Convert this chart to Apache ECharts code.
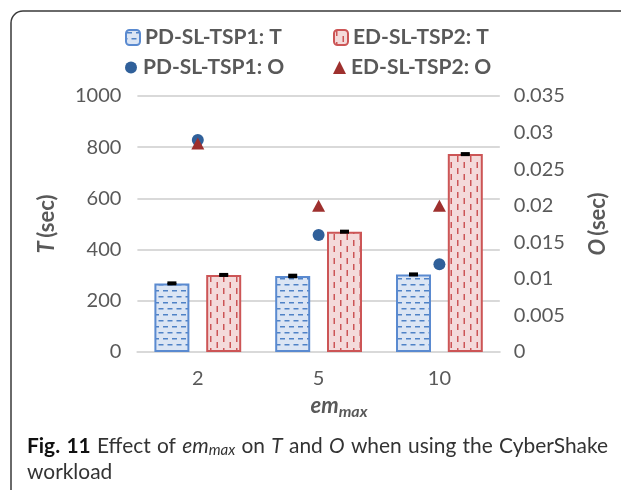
<!DOCTYPE html>
<html>
<head>
<meta charset="utf-8">
<style>
  html, body { margin: 0; padding: 0; background: #fff; }
  #chart { width: 621px; height: 490px; }
</style>
<script src="https://cdn.jsdelivr.net/npm/echarts@6/dist/echarts.min.js"></script>
</head>
<body>
<div id="chart"></div>
<script>
// em_max settings on the category axis
const categories = ['2', '5', '10'];
// makespan T (sec), left axis
const pdT = [268, 297, 303];
const edT = [301, 470, 773];
// error bar half-widths for T
const pdTErr = [3, 4, 3];
const edTErr = [3, 3, 3];
// overhead O (sec), right axis
const pdO = [0.029, 0.016, 0.012];
const edO = [0.0285, 0.020, 0.020];
// series names
const names = ['PD-SL-TSP1: T', 'ED-SL-TSP2: T', 'PD-SL-TSP1: O', 'ED-SL-TSP2: O'];
// axis ranges
const tAxis = { min: 0, max: 1000, step: 200 };
const oAxis = { min: 0, max: 0.035, step: 0.005 };

const FONT = 'Lato';
const BAR_W = 35;
const BAR_GAP = 0.48;
const AXIS_GREY = '#595959';

function makePattern(kind) {
  const c = document.createElement('canvas');
  const ctx = c.getContext('2d');
  if (kind === 'h') {
    c.width = 9; c.height = 12;
    ctx.fillStyle = '#dbe5f4';
    ctx.fillRect(0, 0, 9, 12);
    ctx.fillStyle = '#4f82c6';
    ctx.fillRect(1, 2, 5, 1.5);
    ctx.fillRect(5.5, 8, 3.5, 1.5);
    ctx.fillRect(0, 8, 1.5, 1.5);
  } else {
    c.width = 13; c.height = 12;
    ctx.fillStyle = '#f4dada';
    ctx.fillRect(0, 0, 13, 12);
    ctx.fillStyle = '#cc5556';
    ctx.fillRect(2, 0, 1.5, 6);
    ctx.fillRect(8.5, 6, 1.5, 6);
  }
  return { image: c, repeat: 'repeat' };
}

const chart = echarts.init(document.getElementById('chart'), null, { renderer: 'canvas' });

function errorBarRender(offsetSign) {
  return function (params, api) {
    const idx = api.value(0);
    const v = api.value(1);
    const e = api.value(2);
    const top = api.coord([idx, v + e]);
    const bot = api.coord([idx, v - e]);
    const dx = offsetSign * BAR_W * (1 + BAR_GAP) / 2;
    const x = top[0] + dx;
    const half = 4.5;
    const st = { stroke: '#000', lineWidth: 2.5 };
    return {
      type: 'group',
      children: [
        { type: 'line', shape: { x1: x, y1: top[1], x2: x, y2: bot[1] }, style: st },
        { type: 'line', shape: { x1: x - half, y1: top[1], x2: x + half, y2: top[1] }, style: st },
        { type: 'line', shape: { x1: x - half, y1: bot[1], x2: x + half, y2: bot[1] }, style: st }
      ]
    };
  };
}

const legendText = { fontFamily: FONT, fontSize: 21, fontWeight: 'bold', color: AXIS_GREY };
function legendAt(name, left, top, w, h) {
  return {
    data: [name], left: left, top: top, padding: 0,
    itemWidth: w, itemHeight: h, selectedMode: false,
    textStyle: legendText
  };
}

// caption: first line justified between the frame margins
const CAP_LEFT = 27, CAP_RIGHT = 608, CAP_Y1 = 446, CAP_Y2 = 472;
const capWords = [
  { t: 'Fig.', b: true }, { t: '11', b: true }, { t: 'Effect' }, { t: 'of' },
  { t: 'em', i: true, sub: 'max' }, { t: 'on' }, { t: 'T', i: true }, { t: 'and' },
  { t: 'O', i: true }, { t: 'when' }, { t: 'using' }, { t: 'the' }, { t: 'CyberShake' }
];
const SUB_RATIO = 0.72;
const mctx = document.createElement('canvas').getContext('2d');
function measure(text, size, italic, bold) {
  mctx.font = (italic ? 'italic ' : '') + (bold ? 'bold ' : '') + size + 'px ' + FONT;
  return mctx.measureText(text).width;
}
function wordWidth(w, size) {
  let width = measure(w.t, size, w.i, w.b);
  if (w.sub) width += measure(w.sub, size * SUB_RATIO, true, false);
  return width;
}
// pick a size whose natural spacing fills the line, within sensible bounds
const unitWidth = capWords.reduce((s, w) => s + wordWidth(w, 100) / 100, 0);
let CAP_SIZE = (CAP_RIGHT - CAP_LEFT) / (unitWidth + (capWords.length - 1) * 0.3);
CAP_SIZE = Math.max(16, Math.min(21, CAP_SIZE));
const widths = capWords.map(w => wordWidth(w, CAP_SIZE));
const total = widths.reduce((a, b) => a + b, 0);
const gap = (CAP_RIGHT - CAP_LEFT - total) / (capWords.length - 1);
const captionEls = [];
let cx = CAP_LEFT;
capWords.forEach((w, k) => {
  const fill = w.b ? '#111' : '#333';
  captionEls.push({
    type: 'text', x: cx, y: CAP_Y1, silent: true,
    style: {
      text: w.t, fontFamily: FONT, fontSize: CAP_SIZE,
      fontStyle: w.i ? 'italic' : 'normal', fontWeight: w.b ? 'bold' : 'normal',
      fill: fill, verticalAlign: 'middle'
    }
  });
  if (w.sub) {
    captionEls.push({
      type: 'text', x: cx + measure(w.t, CAP_SIZE, w.i, w.b), y: CAP_Y1 + CAP_SIZE * 0.22, silent: true,
      style: {
        text: w.sub, fontFamily: FONT, fontSize: CAP_SIZE * SUB_RATIO, fontStyle: 'italic',
        fill: fill, verticalAlign: 'middle'
      }
    });
  }
  cx += widths[k] + gap;
});
captionEls.push({
  type: 'text', x: CAP_LEFT, y: CAP_Y2, silent: true,
  style: { text: 'workload', fontFamily: FONT, fontSize: CAP_SIZE, fill: '#333', verticalAlign: 'middle' }
});

// x-axis title em_max, centred over the chart area
const XT_SIZE = 22, XT_SUB = 16, XT_CX = 339, XT_Y = 406;
const xtMain = measure('em', XT_SIZE, true, true);
const xtSub = measure('max', XT_SUB, true, true);
const xtLeft = XT_CX - (xtMain + xtSub) / 2;
const xTitle = [
  {
    type: 'text', x: xtLeft, y: XT_Y, silent: true,
    style: { text: 'em', fontFamily: FONT, fontSize: XT_SIZE, fontWeight: 'bold', fontStyle: 'italic', fill: AXIS_GREY, verticalAlign: 'middle' }
  },
  {
    type: 'text', x: xtLeft + xtMain, y: XT_Y + 6, silent: true,
    style: { text: 'max', fontFamily: FONT, fontSize: XT_SUB, fontWeight: 'bold', fontStyle: 'italic', fill: AXIS_GREY, verticalAlign: 'middle' }
  }
];

function yTitle(letter, x) {
  return {
    type: 'text', x: x, y: 224, rotation: Math.PI / 2, silent: true,
    style: {
      text: '{i|' + letter + '} {n|(sec)}', align: 'center', verticalAlign: 'middle',
      rich: {
        i: { fontFamily: FONT, fontSize: 22, fontWeight: 'bold', fontStyle: 'italic', fill: AXIS_GREY },
        n: { fontFamily: FONT, fontSize: 22, fontWeight: 'bold', fill: AXIS_GREY }
      }
    }
  };
}

const option = {
  animation: false,
  backgroundColor: '#fff',
  textStyle: { fontFamily: FONT },
  grid: { left: 137.4, right: 121.2, top: 96, bottom: 138 },
  legend: [
    legendAt(names[0], 125, 27, 14, 15),
    legendAt(names[1], 333, 27, 14, 15),
    legendAt(names[2], 125, 57, 14, 12),
    legendAt(names[3], 333, 57, 13, 13)
  ],
  xAxis: {
    type: 'category',
    data: categories,
    axisLine: { show: true, lineStyle: { color: '#d9d9d9', width: 2 } },
    axisTick: { show: false },
    axisLabel: { margin: 17, fontFamily: FONT, fontSize: 20, color: AXIS_GREY }
  },
  yAxis: [
    {
      type: 'value', min: tAxis.min, max: tAxis.max, interval: tAxis.step,
      axisLine: { show: false }, axisTick: { show: false },
      splitLine: { lineStyle: { color: '#d9d9d9', width: 2 } },
      axisLabel: {
        margin: 16, fontFamily: FONT, fontSize: 20, color: AXIS_GREY,
        formatter: v => String(v)
      }
    },
    {
      type: 'value', min: oAxis.min, max: oAxis.max, interval: oAxis.step,
      position: 'right',
      axisLine: { show: false }, axisTick: { show: false },
      splitLine: { show: false },
      axisLabel: {
        margin: 14, fontFamily: FONT, fontSize: 20, color: AXIS_GREY,
        formatter: v => String(+v.toFixed(3))
      }
    }
  ],
  series: [
    {
      name: names[0], type: 'bar', data: pdT, barWidth: BAR_W, barGap: (BAR_GAP * 100) + '%',
      itemStyle: { color: makePattern('h'), borderColor: '#5a8ad0', borderWidth: 2 }
    },
    {
      name: names[1], type: 'bar', data: edT, barWidth: BAR_W,
      itemStyle: { color: makePattern('v'), borderColor: '#cc5556', borderWidth: 2 }
    },
    {
      name: names[2], type: 'scatter', yAxisIndex: 1, data: pdO,
      symbol: 'circle', symbolSize: 12, z: 5,
      itemStyle: { color: '#30609a', opacity: 1 }
    },
    {
      name: names[3], type: 'scatter', yAxisIndex: 1, data: edO,
      symbol: 'triangle', symbolSize: [13, 12], z: 5,
      itemStyle: { color: '#9e302e', opacity: 1 }
    },
    {
      type: 'custom', renderItem: errorBarRender(-1), z: 4,
      data: pdT.map((v, i) => [i, v, pdTErr[i]]),
      encode: { x: 0, y: 1 }, silent: true
    },
    {
      type: 'custom', renderItem: errorBarRender(1), z: 4,
      data: edT.map((v, i) => [i, v, edTErr[i]]),
      encode: { x: 0, y: 1 }, silent: true
    }
  ],
  graphic: [
    {
      type: 'rect', shape: { x: 11, y: 11, width: 700, height: 600, r: 12 },
      style: { fill: null, stroke: '#3a3a3a', lineWidth: 1.5 }, silent: true
    },
    yTitle('T', 47),
    yTitle('O', 598)
  ].concat(xTitle, captionEls)
};

chart.setOption(option);
</script>
</body>
</html>
